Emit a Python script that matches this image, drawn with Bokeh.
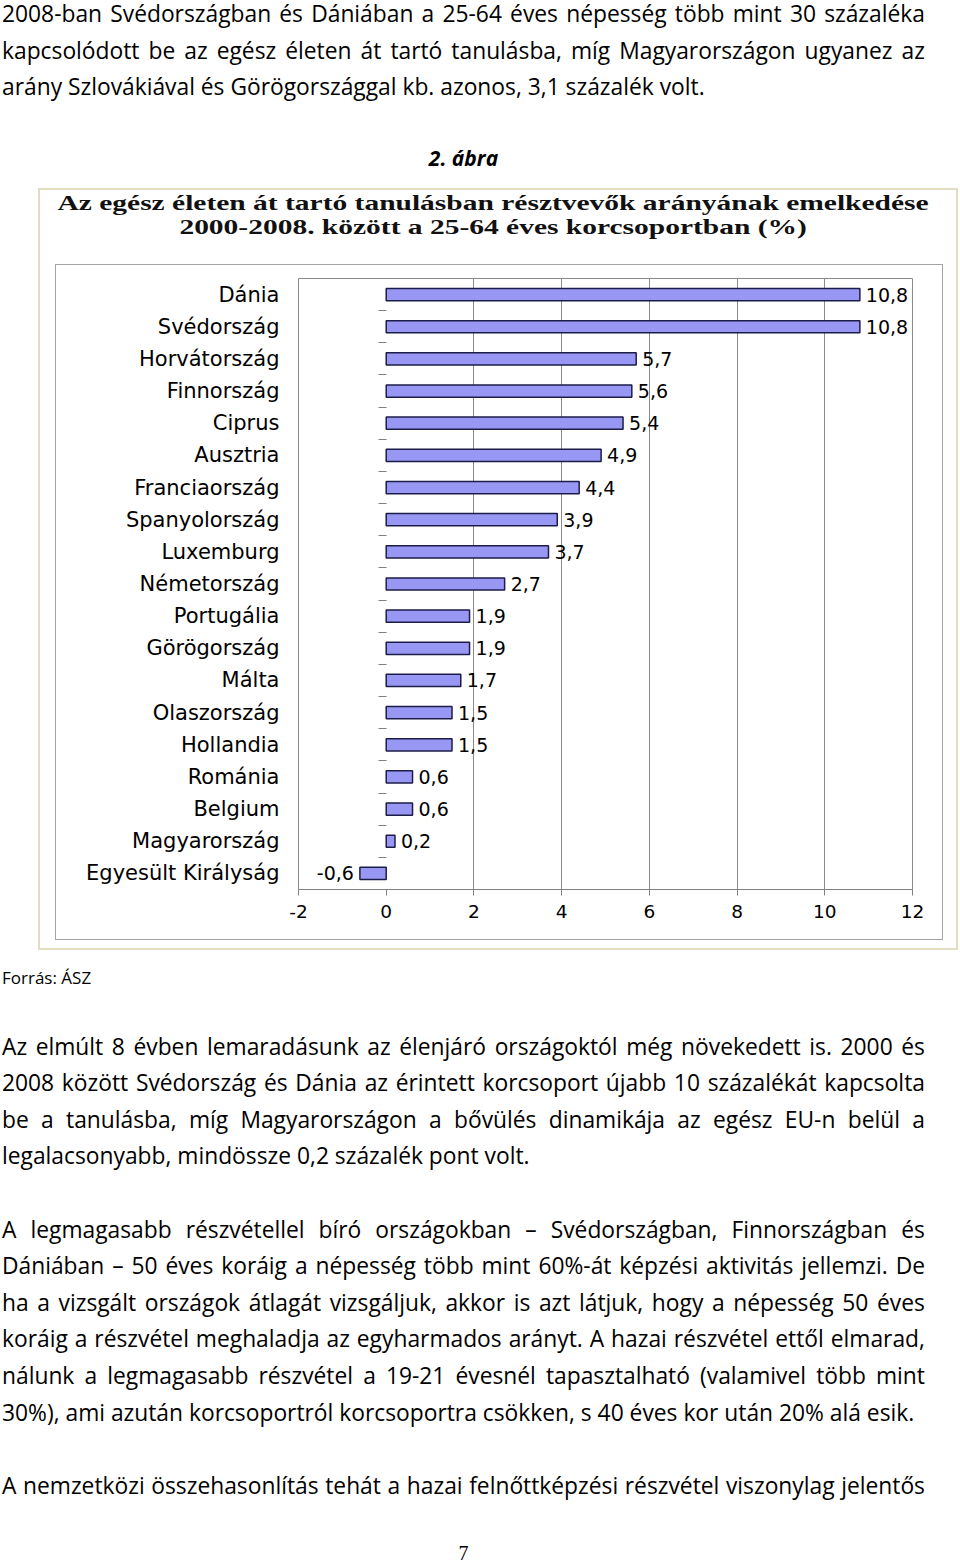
from bokeh.plotting import figure
from bokeh.models import Range1d, FixedTicker, LinearAxis, Div, Spacer, ColumnDataSource
from bokeh.layouts import column, row
from bokeh.embed import file_html
from bokeh.resources import INLINE
from bokeh.core.properties import value

# ---------------- data ----------------
countries = ["Dánia", "Svédország", "Horvátország", "Finnország", "Ciprus", "Ausztria",
             "Franciaország", "Spanyolország", "Luxemburg", "Németország", "Portugália",
             "Görögország", "Málta", "Olaszország", "Hollandia", "Románia", "Belgium",
             "Magyarország", "Egyesült Királyság"]
values = [10.8, 10.8, 5.7, 5.6, 5.4, 4.9, 4.4, 3.9, 3.7, 2.7, 1.9, 1.9, 1.7, 1.5, 1.5,
          0.6, 0.6, 0.2, -0.6]
x_ticks = [-2, 0, 2, 4, 6, 8, 10, 12]
x_grid = [2, 4, 6, 8, 10]

chart_title = ["Az egész életen át tartó tanulásban résztvevők arányának emelkedése",
               "2000-2008. között a 25-64 éves korcsoportban (%)"]

para1 = ["2008-ban Svédországban és Dániában a 25-64 éves népesség több mint 30 százaléka",
         "kapcsolódott be az egész életen át tartó tanulásba, míg Magyarországon ugyanez az",
         "arány Szlovákiával és Görögországgal kb. azonos, 3,1 százalék volt."]
figure_caption = "2. ábra"
source_note = "Forrás: ÁSZ"
para2 = ["Az elmúlt 8 évben lemaradásunk az élenjáró országoktól még növekedett is. 2000 és",
         "2008 között Svédország és Dánia az érintett korcsoport újabb 10 százalékát kapcsolta",
         "be a tanulásba, míg Magyarországon a bővülés dinamikája az egész EU-n belül a",
         "legalacsonyabb, mindössze 0,2 százalék pont volt."]
para3 = ["A legmagasabb részvétellel bíró országokban – Svédországban, Finnországban és",
         "Dániában – 50 éves koráig a népesség több mint 60%-át képzési aktivitás jellemzi. De",
         "ha a vizsgált országok átlagát vizsgáljuk, akkor is azt látjuk, hogy a népesség 50 éves",
         "koráig a részvétel meghaladja az egyharmados arányt. A hazai részvétel ettől elmarad,",
         "nálunk a legmagasabb részvétel a 19-21 évesnél tapasztalható (valamivel több mint",
         "30%), ami azután korcsoportról korcsoportra csökken, s 40 éves kor után 20% alá esik."]
para4 = ["A nemzetközi összehasonlítás tehát a hazai felnőttképzési részvétel viszonylag jelentős"]
page_number = "7"

# ---------------- text helpers ----------------
BODY_FONT = "font-family:'Open Sans',Lato,sans-serif;font-size:22.8px;color:#000;"
LH = 36.6


def line(t, justify=True):
    if justify:
        spans = "".join(f"<span>{w}</span>" for w in t.split(" "))
        return (f'<div style="display:flex;justify-content:space-between;white-space:nowrap;'
                f'height:{LH}px;line-height:{LH}px;">{spans}</div>')
    return f'<div style="white-space:nowrap;height:{LH}px;line-height:{LH}px;">{t}</div>'


def para(lines, last_justified=False):
    return "".join(line(t, (i < len(lines) - 1) or last_justified) for i, t in enumerate(lines))


def gap(h):
    return f'<div style="height:{h}px"></div>'


top_html = (
    f'<div style="margin-left:2px;padding-top:0px;width:923px;{BODY_FONT}">'
    + '<div style="margin-top:-4px"></div>'
    + para(para1)
    + gap(34)
    + f'<div style="height:{LH}px;line-height:{LH}px;text-align:center;font-weight:bold;'
      f'font-style:italic;font-size:21px;">{figure_caption}</div>'
    + '</div>'
)
top_div = Div(text=top_html, width=950, height=188, margin=0)

bottom_html = (
    f'<div style="margin-left:2px;width:923px;{BODY_FONT}">'
    + gap(9.7)
    + f'<div style="height:{LH}px;line-height:{LH}px;font-size:17px;">{source_note}</div>'
    + gap(32.4)
    + para(para2)
    + gap(36.6)
    + para(para3)
    + gap(36.4)
    + para(para4, last_justified=True)
    + gap(34)
    + f'<div style="height:30px;line-height:30px;text-align:center;'
      f'font-family:\'Liberation Serif\',serif;font-size:20px;">{page_number}</div>'
    + '</div>'
)
bottom_div = Div(text=bottom_html, width=950, height=612, margin=0)

title_html = (
    '<div style="padding-top:1px;font-family:\'Liberation Serif\',serif;font-weight:bold;'
    'font-size:22px;color:#111;width:906px;">'
    + "".join(
        f'<div style="height:24px;line-height:24px;text-align:center;white-space:nowrap;">'
        f'<span style="display:inline-block;transform:scaleX(1.34);">{t}</span></div>'
        for t in chart_title)
    + '</div>'
)
title_div = Div(text=title_html, width=916, height=74, margin=0)

# ---------------- chart ----------------
pos = list(range(len(countries)))
labels = [f"{v:.1f}".replace(".", ",") for v in values]
src = ColumnDataSource(dict(pos=pos, val=values, lab=labels))
pos_src = ColumnDataSource(dict(
    pos=[p_ for p_, v in zip(pos, values) if v >= 0],
    val=[v for v in values if v >= 0],
    lab=[l for l, v in zip(labels, values) if v >= 0]))
neg_src = ColumnDataSource(dict(
    pos=[p_ for p_, v in zip(pos, values) if v < 0],
    val=[v for v in values if v < 0],
    lab=[l for l, v in zip(labels, values) if v < 0]))

p = figure(width=888, height=676, output_backend="svg", toolbar_location=None,
           x_range=Range1d(x_ticks[0], x_ticks[-1]),
           y_range=Range1d(len(countries) - 0.5, -0.5),
           min_border_left=242, min_border_right=32, min_border_top=13, min_border_bottom=52,
           margin=0)
p.background_fill_color = "white"
p.border_fill_color = "white"
p.outline_line_color = "#8a8a8a"
p.outline_line_width = 1
p.styles = {"border": "1px solid #a3a3a3", "box-sizing": "border-box"}

p.hbar(y="pos", left=0, right="val", height=0.38, source=src,
       fill_color="#9898f4", line_color="#1c1c48", line_width=1.5)

text_kw = dict(text="lab", y="pos", x="val", text_baseline="middle",
               text_font=value("DejaVu Sans"), text_font_size="19px", text_color="#000")
p.text(source=pos_src, x_offset=6, text_align="left", **text_kw)
p.text(source=neg_src, x_offset=-6, text_align="right", **text_kw)

# x axis
xa = p.xaxis[0]
xa.ticker = FixedTicker(ticks=x_ticks)
xa.major_label_overrides = {t: str(t) for t in x_ticks}
xa.axis_line_color = "#808080"
xa.major_tick_line_color = "#808080"
xa.major_tick_out = 6
xa.major_tick_in = 0
xa.minor_tick_line_color = None
xa.major_label_text_font = "DejaVu Sans"
xa.major_label_text_font_size = "18.5px"
xa.major_label_text_color = "#000"
xa.major_label_standoff = 9

# category axis (labels)
ya = p.yaxis[0]
ya.ticker = FixedTicker(ticks=pos)
ya.major_label_overrides = {i: c for i, c in zip(pos, countries)}
ya.axis_line_color = None
ya.major_tick_line_color = None
ya.minor_tick_line_color = None
ya.major_tick_out = 0
ya.major_label_text_font = "DejaVu Sans"
ya.major_label_text_font_size = "21px"
ya.major_label_text_color = "#000"
ya.major_label_standoff = 19

# category tick marks between bars, on the zero line
between = [i + 0.5 for i in pos[:-1]]
tick_axis = LinearAxis(fixed_location=0, ticker=FixedTicker(ticks=between),
                       axis_line_color=None, major_tick_line_color="#808080",
                       major_tick_out=8, major_tick_in=0, minor_tick_line_color=None,
                       major_label_overrides={t: "" for t in between},
                       major_label_standoff=0)
p.add_layout(tick_axis, "left")

p.xgrid.ticker = FixedTicker(ticks=x_grid)
p.xgrid.grid_line_color = "#8a8a8a"
p.ygrid.grid_line_color = None

chart_box = column(
    title_div,
    row(Spacer(width=15, margin=0), p, Spacer(width=13, margin=0), margin=0),
    Spacer(height=8, margin=0),
    margin=0,
    styles={"border": "2px solid #e2ddc0", "background-color": "white"},
)

page = column(top_div, row(Spacer(width=38, margin=0), chart_box, margin=0), bottom_div, margin=0)

with open("out.html", "w") as f:
    f.write(file_html(page, INLINE))
